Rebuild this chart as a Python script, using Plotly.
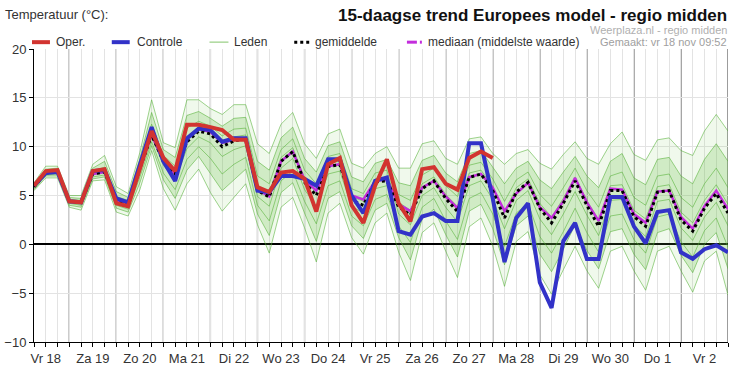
import plotly.graph_objects as go

# ---------------- data (6-hourly steps, step 0 = Vr 18 06:00) ----------------
days = ["Vr 18", "Za 19", "Zo 20", "Ma 21", "Di 22", "Wo 23", "Do 24", "Vr 25",
        "Za 26", "Zo 27", "Ma 28", "Di 29", "Wo 30", "Do 1", "Vr 2"]
steps = list(range(60))

oper = [6.0, 7.5, 7.6, 4.4, 4.3, 7.5, 7.7, 4.2, 3.9, 7.6,
        11.6, 8.85, 7.5, 12.25, 12.25, 12.0, 11.7, 10.7, 10.7, 5.85,
        5.35, 7.35, 7.5, 6.7, 3.35, 8.2, 8.85, 4.0, 2.2, 6.0,
        8.7, 4.2, 2.35, 7.7, 7.9, 6.2, 5.6, 8.85, 9.5, 8.85]

controle = [6.0, 7.3, 7.4, 4.4, 4.3, 7.5, 7.6, 4.7, 4.3, 8.0,
            12.0, 8.5, 6.5, 10.85, 11.85, 11.7, 10.5, 10.85, 10.85, 5.5,
            5.35, 7.0, 7.0, 6.7, 6.0, 8.7, 8.7, 5.0, 3.2, 6.5,
            6.85, 1.35, 1.0, 2.85, 3.2, 2.4, 2.4, 10.35, 10.35, 4.7,
            -1.82, 2.7, 4.2, -3.9, -6.5, 0.33, 2.2, -1.5, -1.5, 4.85,
            4.85, 1.85, 0.1, 3.3, 3.5, -0.82, -1.48, -0.5, -0.1, -0.82]

gemiddelde = [5.9, 7.3, 7.4, 4.4, 4.3, 7.2, 7.4, 4.5, 4.2, 7.8,
              11.2, 8.5, 7.2, 10.5, 11.6, 11.3, 10.0, 10.6, 10.8, 5.5,
              4.85, 8.5, 9.5, 6.35, 5.0, 7.95, 8.15, 4.5, 4.0, 6.4,
              6.5, 3.85, 3.0, 5.7, 6.5, 4.7, 3.35, 6.85, 7.2, 5.5,
              2.7, 5.35, 6.35, 3.7, 2.2, 4.2, 6.5, 4.0, 1.85, 5.5,
              5.5, 2.85, 1.85, 5.35, 5.5, 2.5, 1.35, 3.7, 5.2, 3.2]

mediaan = [5.9, 7.3, 7.4, 4.4, 4.3, 7.2, 7.4, 4.5, 4.2, 7.8,
           11.2, 8.5, 7.2, 10.8, 11.8, 11.5, 10.4, 10.7, 10.8, 5.6,
           4.9, 8.5, 9.5, 6.6, 5.5, 8.0, 8.2, 5.0, 4.6, 6.5,
           6.6, 4.1, 3.4, 5.8, 6.5, 4.9, 3.7, 6.9, 7.2, 5.8,
           3.4, 5.2, 6.3, 3.8, 2.7, 4.4, 6.8, 4.3, 2.4, 5.7,
           5.6, 3.1, 2.2, 5.4, 5.5, 2.8, 1.6, 3.9, 5.5, 3.6]

lid1 = [6.3, 8.0, 8.0, 5.0, 5.0, 8.2, 9.1, 5.9, 5.2, 9.4,
        14.8, 10.4, 9.9, 14.8, 14.8, 13.9, 13.3, 14.3, 14.3, 10.3,
        9.3, 12.3, 13.5, 10.3, 8.8, 11.3, 11.8, 8.3, 7.8, 9.3,
        10.0, 7.8, 7.8, 10.3, 10.6, 8.8, 8.2, 10.8, 11.0, 9.3,
        8.2, 9.3, 9.7, 8.3, 7.7, 9.2, 10.5, 8.8, 8.2, 10.3,
        11.5, 9.2, 8.6, 10.7, 10.9, 9.6, 9.1, 11.6, 13.3, 11.6]
lid2 = [6.1, 7.7, 7.8, 4.8, 4.7, 7.8, 8.5, 5.4, 4.8, 8.8,
        13.5, 9.7, 8.9, 13.2, 13.6, 12.9, 12.1, 12.9, 13.0, 8.5,
        7.6, 10.9, 12.0, 8.8, 7.4, 10.1, 10.5, 6.9, 6.4, 8.3,
        8.7, 6.3, 6.0, 8.6, 9.1, 7.3, 6.4, 9.3, 9.6, 7.9,
        6.2, 7.8, 8.5, 6.6, 5.7, 7.4, 9.0, 7.0, 5.8, 8.5,
        9.3, 6.8, 6.1, 8.7, 8.9, 7.0, 6.2, 8.7, 10.3, 8.5]
lid3 = [6.0, 7.5, 7.6, 4.6, 4.5, 7.5, 7.9, 4.9, 4.5, 8.3,
        12.3, 9.1, 8.0, 11.9, 12.6, 12.1, 11.1, 11.8, 11.9, 7.0,
        6.2, 9.7, 10.8, 7.6, 6.2, 9.0, 9.3, 5.7, 5.2, 7.3,
        7.6, 3.1, 2.0, 5.0, 5.8, 3.8, 2.3, 6.0, 6.5, 4.6,
        1.6, 4.5, 5.5, 2.6, 1.0, 3.1, 5.4, 3.0, 0.9, 4.5,
        4.6, 2.0, 0.8, 4.4, 4.6, 1.7, 0.4, 2.8, 4.3, 1.9]
lid4 = [5.9, 7.4, 7.5, 4.5, 4.4, 7.3, 7.6, 4.6, 4.3, 8.0,
        11.6, 8.7, 7.5, 11.0, 12.0, 11.6, 10.4, 11.0, 11.2, 6.0,
        5.3, 8.9, 9.9, 6.8, 5.4, 8.3, 8.5, 4.9, 4.4, 6.7,
        6.9, 4.3, 3.5, 6.2, 6.9, 5.1, 3.9, 7.3, 7.6, 5.9,
        3.3, 5.8, 6.7, 4.2, 2.8, 4.7, 6.9, 4.5, 2.5, 6.0,
        6.1, 3.5, 2.6, 5.9, 6.1, 3.3, 2.2, 4.5, 6.1, 4.1]
lid5 = [5.8, 7.2, 7.3, 4.3, 4.2, 7.1, 7.3, 4.3, 4.0, 7.5,
        11.0, 8.1, 6.6, 9.8, 11.0, 10.4, 9.0, 9.7, 10.1, 4.9,
        3.9, 7.8, 8.8, 5.6, 3.9, 7.2, 7.5, 3.9, 3.2, 5.7,
        6.0, 5.1, 4.5, 7.1, 7.8, 6.0, 4.9, 8.1, 8.4, 6.7,
        4.4, 6.6, 7.4, 5.1, 3.9, 5.8, 7.8, 5.5, 3.8, 7.0,
        7.4, 4.8, 4.0, 7.0, 7.2, 4.8, 3.8, 6.2, 7.8, 5.8]
lid6 = [5.7, 7.1, 7.2, 4.2, 4.0, 6.9, 7.1, 4.0, 3.6, 6.9,
        10.5, 7.3, 5.6, 8.7, 10.0, 8.8, 7.2, 8.2, 8.9, 4.0,
        2.4, 6.5, 7.5, 4.4, 2.1, 6.0, 6.5, 2.9, 1.9, 4.6,
        5.1, 1.9, 0.2, 3.8, 4.7, 2.4, 0.5, 4.7, 5.3, 3.1,
        -0.2, 3.2, 4.2, 0.8, -0.9, 1.3, 3.7, 1.2, -0.8, 2.9,
        3.1, 0.5, -0.9, 2.8, 3.1, 0.3, -1.3, 1.4, 2.7, -0.3]
lid7 = [5.6, 7.0, 7.0, 4.0, 3.8, 6.7, 6.9, 3.7, 3.3, 6.3,
        10.1, 6.6, 4.7, 7.6, 9.0, 7.2, 5.5, 6.6, 7.7, 3.1,
        0.9, 5.3, 6.3, 3.2, 0.3, 4.7, 5.4, 1.9, 0.6, 3.5,
        4.2, 0.7, -1.6, 2.6, 3.6, 1.0, -1.3, 3.4, 4.1, 1.6,
        -2.1, 1.9, 2.9, -1.0, -2.8, -0.5, 2.0, -0.6, -2.5, 1.3,
        1.6, -1.0, -2.6, 1.2, 1.6, -1.1, -2.9, 0.0, 1.2, -2.5]
lid8 = [5.5, 6.8, 6.8, 3.8, 3.5, 6.5, 6.6, 3.3, 2.9, 5.6,
        9.6, 5.7, 3.5, 6.2, 7.7, 5.3, 3.4, 4.8, 6.2, 2.0,
        -0.9, 3.8, 4.8, 1.7, -1.8, 3.2, 4.2, 0.7, -1.0, 2.2,
        3.2, -0.8, -3.7, 1.2, 2.2, -0.7, -3.4, 1.8, 2.7, -0.2,
        -4.3, 0.3, 1.3, -3.1, -5.1, -2.6, -0.2, -2.7, -4.5, -0.7,
        -0.2, -2.7, -4.7, -0.7, -0.2, -2.7, -4.9, -1.7, -0.7, -5.2]
leden = [lid1, lid2, lid3, lid4, lid5, lid6, lid7, lid8]

# ---------------- layout geometry ----------------
W, H = 732, 370
ML, MR, MT, MB = 32, 4, 49, 21
PW, PH = W - ML - MR, H - MT - MB


def fx(px):
    return (px - ML) / PW


def fy(py):
    return (H - MB - py) / PH


noon_ticks = [1 + 4 * k for k in range(len(days))]
day_bounds = [3 + 4 * k for k in range(len(days))]

GREEN = "rgba(80,175,50,0.55)"
fig = go.Figure()

# ensemble envelope (light) and core (medium)
fig.add_trace(go.Scatter(x=steps, y=lid8, mode="lines", line=dict(width=0),
                         hoverinfo="skip", showlegend=False))
fig.add_trace(go.Scatter(x=steps, y=lid1, mode="lines", line=dict(width=0),
                         fill="tonexty", fillcolor="rgba(130,205,100,0.12)",
                         hoverinfo="skip", showlegend=False))
fig.add_trace(go.Scatter(x=steps, y=lid7, mode="lines", line=dict(width=0),
                         hoverinfo="skip", showlegend=False))
fig.add_trace(go.Scatter(x=steps, y=lid2, mode="lines", line=dict(width=0),
                         fill="tonexty", fillcolor="rgba(95,185,60,0.22)",
                         hoverinfo="skip", showlegend=False))
for m in leden:
    fig.add_trace(go.Scatter(x=steps, y=m, mode="lines",
                             line=dict(color=GREEN, width=1),
                             showlegend=False))

fig.add_trace(go.Scatter(x=steps, y=mediaan, mode="lines",
                         line=dict(color="rgb(195,45,220)", width=2.5),
                         showlegend=False))
fig.add_trace(go.Scatter(x=steps, y=gemiddelde, mode="lines",
                         line=dict(color="black", width=3, dash="dot"),
                         showlegend=False))
fig.add_trace(go.Scatter(x=steps, y=controle, mode="lines",
                         line=dict(color="rgb(50,50,200)", width=4),
                         showlegend=False))
fig.add_trace(go.Scatter(x=steps[:len(oper)], y=oper, mode="lines",
                         line=dict(color="rgb(210,52,48)", width=4),
                         showlegend=False))

shapes = []
for b in day_bounds:
    shapes.append(dict(type="line", xref="x", yref="paper", x0=b, x1=b, y0=0, y1=1,
                       line=dict(color="#5a5a5a", width=1.2), layer="below"))

# manual legend
LY = 42
leg = [
    (30, 48, dict(color="rgb(210,52,48)", width=4), 52, "Oper."),
    (110, 128, dict(color="rgb(50,50,200)", width=4), 133, "Controle"),
    (208, 227, dict(color="rgba(150,205,130,0.8)", width=1.5), 231, "Leden"),
    (293, 308, dict(color="black", width=3, dash="dot"), 312, "gemiddelde"),
    (406, 416, dict(color="rgb(195,45,220)", width=3), 425, "mediaan (middelste waarde)"),
]
annotations = []
for x0, x1, ln, tx, label in leg:
    shapes.append(dict(type="line", xref="paper", yref="paper", x0=fx(x0), x1=fx(x1),
                       y0=fy(LY), y1=fy(LY), line=ln))
    annotations.append(dict(xref="paper", yref="paper", x=fx(tx), y=fy(LY),
                            xanchor="left", yanchor="middle", showarrow=False,
                            text=label, font=dict(size=12, color="#333")))
shapes.append(dict(type="line", xref="paper", yref="paper", x0=fx(419), x1=fx(421),
                   y0=fy(LY), y1=fy(LY), line=dict(color="rgb(195,45,220)", width=3)))

annotations += [
    dict(xref="paper", yref="paper", x=fx(1), y=fy(14), xanchor="left", yanchor="middle",
         showarrow=False, text="Temperatuur (°C):", font=dict(size=13, color="#333")),
    dict(xref="paper", yref="paper", x=fx(729), y=fy(15), xanchor="right", yanchor="middle",
         showarrow=False, text="<b>15-daagse trend Europees model - regio midden</b>",
         font=dict(size=17, color="#111")),
    dict(xref="paper", yref="paper", x=fx(729), y=fy(30), xanchor="right", yanchor="middle",
         showarrow=False, text="Weerplaza.nl - regio midden",
         font=dict(size=11, color="#b0b0b0")),
    dict(xref="paper", yref="paper", x=fx(729), y=fy(42), xanchor="right", yanchor="middle",
         showarrow=False, text="Gemaakt: vr 18 nov 09:52",
         font=dict(size=11, color="#a0a0a0")),
]

fig.update_layout(
    width=W, height=H,
    margin=dict(l=ML, r=MR, t=MT, b=MB, pad=0),
    paper_bgcolor="white", plot_bgcolor="white",
    font=dict(family="Liberation Sans, Arial, sans-serif", color="#333"),
    shapes=shapes, annotations=annotations,
    showlegend=False, hovermode=False,
    xaxis=dict(range=[0, 59], tickmode="array", tickvals=noon_ticks, ticktext=days,
               showgrid=False, zeroline=False,
               showline=True, linecolor="black", linewidth=1,
               ticks="outside", ticklen=4, tickcolor="black",
               tickfont=dict(size=13, color="#333"),
               minor=dict(dtick=1, tick0=0, showgrid=True, gridcolor="#e3e3e3",
                          gridwidth=1, ticks="outside", ticklen=4, tickcolor="black")),
    yaxis=dict(range=[-10, 20], dtick=5, tick0=0,
               showgrid=True, gridcolor="#e3e3e3", gridwidth=1,
               zeroline=True, zerolinecolor="black", zerolinewidth=2,
               showline=True, linecolor="black", linewidth=1,
               ticks="outside", ticklen=4, tickcolor="black",
               tickfont=dict(size=13, color="#333")),
)

fig.write_html("out.html",
               config={"displayModeBar": False},
               post_script="document.body.style.margin='0px';document.body.style.overflow='hidden';")
